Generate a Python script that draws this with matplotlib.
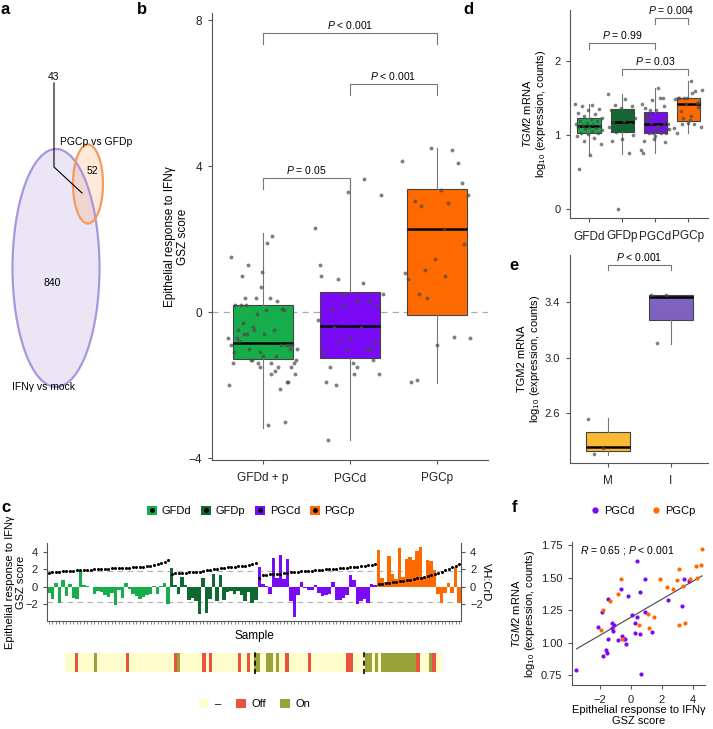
import numpy as np
import matplotlib.pyplot as plt
from matplotlib.patches import Ellipse, Patch
from matplotlib.lines import Line2D
from matplotlib.legend_handler import HandlerTuple

plt.rcParams['font.family'] = ['Liberation Sans', 'DejaVu Sans']
plt.rcParams['mathtext.fontset'] = 'custom'
plt.rcParams['mathtext.rm'] = 'Liberation Sans'
plt.rcParams['mathtext.it'] = 'Liberation Sans:italic'
plt.rcParams['font.size'] = 8
plt.rcParams['axes.edgecolor'] = '#555555'
plt.rcParams['axes.linewidth'] = 0.8
plt.rcParams['xtick.color'] = '#555555'
plt.rcParams['ytick.color'] = '#555555'
plt.rcParams['xtick.labelcolor'] = '#222222'
plt.rcParams['ytick.labelcolor'] = '#222222'

# ---- data ----
# a: overlap of gene sets
n_ifng_only = 840
n_shared = 43
n_pgcp_only = 52

# b / c: GSZ score per sample (bars of c, points of b)
gsz_gfdd = [-0.7, -1.4, 0.4, -1.9, 0.7, -1.1, 0.3, -1.3, -1.4, 1.9, 0.2, 0.05, -0.05,
            -0.9, -0.5, -0.6, -1.0, -1.2, -0.7, -2.1, -0.4, -1.3, 0.4, -0.3, -0.9, -1.1,
            -1.4, -1.2, -1.0, -0.9, 0.05, -0.8, 0.1, 0.4, -2.0]
gsz_gfdp = [2.1, 0.2, -0.9, 1.1, 0.2, -1.5, -1.3, -1.7, -3.1, 1.0, -3.0, -1.4, 1.5,
            -1.6, 1.3, -1.5, -0.6, -0.5, -0.9, -0.5, -1.0, -1.7, -0.6, -1.9, -1.5]
gsz_pgcd = [2.3, 0.3, 0.1, -0.8, 3.3, 1.0, 3.65, 0.9, 3.2, -1.7, -3.5, -1.0, 0.5, -0.2,
            -0.4, -0.4, 0.2, -0.7, -1.1, -1.0, -0.8, 0.5, -1.5, -1.5, -1.3, -1.0, 1.3,
            0.8, -2.0, -1.7, -1.4, -1.9, 0.3, 0.2]
gsz_pgcp = [4.15, 1.0, 0.5, 3.55, 1.45, 0.9, 4.45, 1.15, 3.2, 3.35, 3.05, 4.1, 4.5,
            1.07, 3.0, 2.9, 1.86, -0.9, -1.9, -0.68, 0.4, -0.7, 2.27, -1.86]

# c: VH:CrD per sample (black dots)
vh_gfdd = [1.6, 1.65, 1.7, 1.72, 1.75, 1.78, 1.8, 1.82, 1.85, 1.88, 1.9, 1.92, 1.95,
           1.97, 2.0, 2.02, 2.04, 2.06, 2.08, 2.1, 2.12, 2.14, 2.16, 2.18, 2.2, 2.22,
           2.25, 2.28, 2.32, 2.36, 2.45, 2.55, 2.68, 2.8, 3.0]
vh_gfdp = [1.5, 1.52, 1.55, 1.57, 1.6, 1.62, 1.65, 1.68, 1.72, 1.8, 1.9, 1.95, 2.0,
           2.05, 2.1, 2.15, 2.2, 2.25, 2.28, 2.32, 2.36, 2.4, 2.45, 2.55, 2.65]
vh_pgcd = [0.95, 1.35, 1.38, 1.42, 1.45, 1.48, 1.5, 1.55, 1.6, 1.63, 1.66, 1.7, 1.73,
           1.76, 1.8, 1.83, 1.86, 1.9, 1.93, 1.96, 2.0, 2.03, 2.06, 2.1, 2.14, 2.18,
           2.22, 2.26, 2.3, 2.35, 2.4, 2.45, 2.52, 2.6]
vh_pgcp = [0.3, 0.35, 0.4, 0.45, 0.5, 0.55, 0.6, 0.65, 0.72, 0.8, 0.88, 0.95, 1.02,
           1.1, 1.2, 1.35, 1.45, 1.55, 1.7, 1.85, 2.0, 2.2, 2.4, 2.6]

# c: annotation strip (sample indices), everything else is "-"
strip_off = [3, 19, 34, 43, 45, 54, 57, 69, 76, 88, 89, 110, 115]
strip_on = [9, 35, 59, 60, 63, 64, 66, 94, 95, 97, 99, 100, 101, 102, 103, 104, 105,
            106, 107, 108, 109, 114]

# b: box summaries
b_groups = ['GFDd + p', 'PGCd', 'PGCp']
b_q1 = [-1.29, -1.26, -0.08]
b_med = [-0.85, -0.38, 2.27]
b_q3 = [0.19, 0.55, 3.37]
b_lo = [-3.18, -3.5, -1.95]
b_hi = [2.16, 3.65, 4.5]

# d: TGM2 expression
d_groups = ['GFDd', 'GFDp', 'PGCd', 'PGCp']
d_q1 = [1.03, 1.04, 1.03, 1.18]
d_med = [1.12, 1.17, 1.14, 1.42]
d_q3 = [1.23, 1.35, 1.31, 1.49]
d_lo = [0.73, 0.74, 0.76, 1.02]
d_hi = [1.42, 1.55, 1.63, 1.72]
tgm2_gfdd = [1.41, 1.40, 1.39, 1.35, 1.33, 1.30, 1.28, 1.25, 1.22, 1.21, 1.19, 1.18,
             1.16, 1.15, 1.14, 1.13, 1.12, 1.11, 1.10, 1.09, 1.08, 1.06, 1.05, 1.03,
             1.02, 1.01, 0.99, 0.96, 0.92, 0.88, 0.73, 0.54]
tgm2_gfdp = [1.55, 1.48, 1.40, 1.39, 1.36, 1.33, 1.30, 1.27, 1.22, 1.19, 1.17, 1.15,
             1.12, 1.10, 1.05, 1.04, 1.00, 0.95, 0.91, 0.75, 0.0]

# e: M vs I
e_groups = ['M', 'I']
e_q1 = [2.327, 3.27]
e_med = [2.353, 3.436]
e_q3 = [2.46, 3.45]
e_lo = [2.30, 3.10]
e_hi = [2.566, 3.455]
e_m = [2.556, 2.346, 2.303]
e_i = [3.455, 3.45, 3.103]

# f: GSZ score vs TGM2
f_pgcd_gsz = [-3.5, -2.09, -1.83, -1.81, -1.61, -1.55, -1.48, -1.44, -1.23, -1.18, -1.16,
              -1.05, -0.80, -0.60, -0.54, -0.41, -0.37, -0.30, -0.15, 0.11, 0.28, 0.28,
              0.41, 0.41, 0.60, 0.60, 0.69, 0.92, 0.95, 1.40, 2.43, 3.31, 3.42, 3.78]
f_pgcd_tgm2 = [0.79, 1.12, 1.24, 0.90, 0.944, 0.92, 1.03, 1.34, 1.15, 1.11, 1.09, 1.14,
               1.02, 1.415, 1.054, 1.03, 1.026, 0.99, 1.36, 1.215, 1.155, 1.077, 1.63,
               1.20, 1.39, 1.07, 0.76, 1.49, 1.24, 1.08, 1.33, 1.28, 1.49, 1.475]
f_pgcp_gsz = [-1.94, -1.81, -1.35, -0.84, -0.62, -0.58, 0.56, 1.10, 1.20, 1.51, 1.91,
              2.37, 2.71, 2.97, 3.12, 3.14, 3.40, 3.51, 3.83, 4.19, 4.26, 4.54, 4.60]
f_pgcp_tgm2 = [1.095, 1.25, 1.32, 1.375, 1.49, 1.026, 1.14, 1.22, 1.11, 1.20, 1.49,
               1.43, 1.415, 1.48, 1.567, 1.14, 1.44, 1.155, 1.49, 1.59, 1.50, 1.60, 1.72]

C_GFDD = '#17ad4b'
C_GFDP = '#0e6a31'
C_PGCD = '#7a0af5'
C_PGCP = '#ff6a00'

W, H = 713, 729


def fx(p):
    return p / W


def fy(p):
    return 1 - p / H


def rect(x0, y0, x1, y1):
    return [fx(x0), fy(y1), fx(x1) - fx(x0), fy(y0) - fy(y1)]


def spread(n, width):
    k = np.arange(n)
    return ((k * 0.6180339887) % 1.0 - 0.5) * width


def draw_boxes(ax, pos, q1, med, q3, lo, hi, colors, width):
    stats = [dict(q1=a, med=m, q3=b, whislo=l, whishi=h, fliers=[])
             for a, m, b, l, h in zip(q1, med, q3, lo, hi)]
    bp = ax.bxp(stats, positions=pos, widths=width, patch_artist=True,
                showfliers=False, showcaps=False,
                boxprops=dict(edgecolor='#444444', linewidth=0.8),
                medianprops=dict(color='black', linewidth=1.8),
                whiskerprops=dict(color='#777777', linewidth=0.8))
    for patch, col in zip(bp['boxes'], colors):
        patch.set_facecolor(col)


def bracket(ax, x1, x2, y, h, label, fs=7.5):
    ax.plot([x1, x1, x2, x2], [y - h, y, y, y - h], color='#777777', lw=0.8,
            clip_on=False)
    ax.annotate(label, xy=((x1 + x2) / 2, y), xytext=(0, 1.5),
                textcoords='offset points', ha='center', va='bottom', fontsize=fs)


def clean(ax):
    ax.spines['top'].set_visible(False)
    ax.spines['right'].set_visible(False)
    ax.tick_params(length=3, width=0.8, pad=4)


fig = plt.figure(figsize=(7.13, 7.29), dpi=100)

# ---- a ----
ax_a = fig.add_axes(rect(0, 0, 135, 470))
ax_a.set_xlim(0, 135)
ax_a.set_ylim(470, 0)
ax_a.axis('off')
ax_a.add_patch(Ellipse((56, 268), 87, 238, facecolor='#ebe6f6', edgecolor='none'))
ax_a.add_patch(Ellipse((88, 184), 30, 79, facecolor=(1.0, 0.55, 0.2, 0.18), edgecolor='none'))
ax_a.add_patch(Ellipse((56, 268), 87, 238, fill=False, edgecolor='#a997dc', lw=1.6))
ax_a.add_patch(Ellipse((88, 184), 30, 79, fill=False, edgecolor='#f59a5c', lw=1.6))
ax_a.plot([54, 54, 82], [83, 167, 193], color='black', lw=0.8)
ax_a.text(54, 77, str(n_shared), ha='center', va='center', fontsize=7.5)
ax_a.text(92, 171, str(n_pgcp_only), ha='center', va='center', fontsize=7.5)
ax_a.text(52, 283, str(n_ifng_only), ha='center', va='center', fontsize=7.5)
ax_a.text(96, 142, 'PGCp vs GFDp', ha='center', va='center', fontsize=7.5)
ax_a.text(43, 387, 'IFNγ vs mock', ha='center', va='center', fontsize=7.5)

# ---- b ----
ax_b = fig.add_axes(rect(212, 13, 488, 460))
clean(ax_b)
b_pos = [1, 2, 3]
b_points = [gsz_gfdd + gsz_gfdp, gsz_pgcd, gsz_pgcp]
ax_b.axhline(0, color='#aaaaaa', ls=(0, (5, 4)), lw=0.9, zorder=0.5)
draw_boxes(ax_b, b_pos, b_q1, b_med, b_q3, b_lo, b_hi, [C_GFDD, C_PGCD, C_PGCP], 0.69)
for p, vals in zip(b_pos, b_points):
    ax_b.scatter(p + spread(len(vals), 0.8), vals, s=8, color='#4a4a4a', alpha=0.7,
                 lw=0, zorder=3)
ax_b.set_xlim(0.414, 3.586)
ax_b.set_ylim(-4.05, 8.2)
ax_b.set_yticks([-4, 0, 4, 8])
ax_b.set_xticks(b_pos, b_groups, fontsize=8.5)
ax_b.tick_params(axis='x', pad=6)
ax_b.tick_params(axis='y', labelsize=8.5)
ax_b.set_ylabel('Epithelial response to IFNγ\nGSZ score', fontsize=8.5, linespacing=1.1)
ax_b.yaxis.set_label_coords(-0.085, 0.5)
bracket(ax_b, 1, 3, 7.64, 0.3, '$P$ < 0.001')
bracket(ax_b, 2, 3, 6.25, 0.3, '$P$ < 0.001')
bracket(ax_b, 1, 2, 3.67, 0.3, '$P$ = 0.05')

# ---- c ----
ax_c = fig.add_axes(rect(47, 543, 461, 621))
ax_c2 = ax_c.twinx()
c_groups = [gsz_gfdd, gsz_gfdp, gsz_pgcd, gsz_pgcp]
c_dots = [vh_gfdd, vh_gfdp, vh_pgcd, vh_pgcp]
c_cols = [C_GFDD, C_GFDP, C_PGCD, C_PGCP]
start = 0
for vals, dots, col in zip(c_groups, c_dots, c_cols):
    xs = np.arange(start, start + len(vals))
    ax_c.bar(xs, vals, width=1.0, color=col, lw=0)
    ax_c2.plot(xs, dots, 'o', color='black', ms=2.2, mew=0)
    start += len(vals)
n_samples = start
for yv in (1.8, -1.8):
    ax_c.axhline(yv, color='#b0b0b0', ls=(0, (5, 4)), lw=0.8, zorder=0)
for a in (ax_c, ax_c2):
    a.set_xlim(-0.5, n_samples - 0.5)
    a.set_ylim(-3.95, 5.0)
    a.set_yticks([-2, 0, 2, 4])
    a.spines['top'].set_visible(False)
ax_c.spines['right'].set_visible(False)
ax_c2.spines['left'].set_visible(False)
ax_c2.spines['bottom'].set_visible(False)
ax_c.set_xticks(np.arange(n_samples), [''] * n_samples)
ax_c.tick_params(axis='x', length=2.5, width=0.5)
ax_c.tick_params(axis='y', length=3, labelsize=8)
ax_c2.tick_params(axis='y', length=3, labelsize=8)
ax_c.set_ylabel('Epithelial response to IFNγ\nGSZ score', fontsize=8, linespacing=1.1)
ax_c.yaxis.set_label_coords(-0.05, 0.5)
ax_c.set_xlabel('Sample', fontsize=8.5)
ax_c.xaxis.set_label_coords(0.5, -0.12)
fig.text(fx(486), fy(582), 'VH:CrD', rotation=270, ha='center', va='center', fontsize=8)

leg_handles = [(Patch(facecolor=col, edgecolor='none'),
                Line2D([], [], ls='', marker='o', color='black', ms=2.5))
               for col in c_cols]
fig.legend(leg_handles, d_groups, handler_map={tuple: HandlerTuple(ndivide=1, pad=0)},
           loc='center', bbox_to_anchor=(fx(251), fy(511)), ncol=4, frameon=False,
           handlelength=0.9, handleheight=0.9, columnspacing=0.9, handletextpad=0.4,
           fontsize=8)

# strip
ax_s = fig.add_axes(rect(65, 653, 442, 672))
state_cols = []
for i in range(n_samples):
    if i in strip_off:
        state_cols.append('#e8553f')
    elif i in strip_on:
        state_cols.append('#9aa23c')
    else:
        state_cols.append('#fefdcb')
ax_s.bar(np.arange(n_samples), np.ones(n_samples), width=1.0, color=state_cols, lw=0)
ax_s.set_xlim(-0.5, n_samples - 0.5)
ax_s.set_ylim(0, 1)
ax_s.axis('off')
for b in (len(gsz_gfdd) + len(gsz_gfdp), len(gsz_gfdd) + len(gsz_gfdp) + len(gsz_pgcd)):
    ax_s.plot([b - 1, b - 1], [-0.1, 1.1], color='black', ls=(0, (3, 2)), lw=1.2,
              clip_on=False)
strip_handles = [Patch(facecolor='#fefdcb'), Patch(facecolor='#e8553f'),
                 Patch(facecolor='#9aa23c')]
fig.legend(strip_handles, ['–', 'Off', 'On'], loc='center', bbox_to_anchor=(fx(255), fy(704)),
           ncol=3, frameon=False, handlelength=0.9, handleheight=0.9, columnspacing=1.3,
           handletextpad=0.5, fontsize=8)

# ---- d ----
ax_d = fig.add_axes(rect(570, 10, 708, 218))
clean(ax_d)
d_pos = [1, 2, 3, 4]
draw_boxes(ax_d, d_pos, d_q1, d_med, d_q3, d_lo, d_hi, c_cols, 0.7)
for p, vals in zip(d_pos, [tgm2_gfdd, tgm2_gfdp, f_pgcd_tgm2, f_pgcp_tgm2]):
    ax_d.scatter(p + spread(len(vals), 0.85), vals, s=7, color='#4a4a4a', alpha=0.7,
                 lw=0, zorder=3)
ax_d.set_xlim(0.424, 4.6)
ax_d.set_ylim(-0.12, 2.68)
ax_d.set_yticks([0, 1, 2])
ax_d.set_xticks(d_pos, d_groups, fontsize=8.5)
ax_d.tick_params(axis='x', pad=6)
ax_d.set_ylabel('$\\mathit{TGM2}$ mRNA\nlog$_{10}$ (expression, counts)', fontsize=8,
                linespacing=1.1)
ax_d.yaxis.set_label_coords(-0.16, 0.5)
bracket(ax_d, 1, 3, 2.23, 0.07, '$P$ = 0.99')
bracket(ax_d, 2, 4, 1.89, 0.08, '$P$ = 0.03')
bracket(ax_d, 3, 4, 2.57, 0.08, '$P$ = 0.004')

# ---- e ----
ax_e = fig.add_axes(rect(570, 255, 708, 463))
clean(ax_e)
e_pos = [1, 2]
draw_boxes(ax_e, e_pos, e_q1, e_med, e_q3, e_lo, e_hi, ['#fbb934', '#7f62bf'], 0.7)
for p, vals in zip(e_pos, [e_m, e_i]):
    ax_e.scatter(p + spread(len(vals), 0.4) - 0.12, vals, s=7, color='#4a4a4a', alpha=0.7,
                 lw=0, zorder=3)
ax_e.set_xlim(0.397, 2.59)
ax_e.set_ylim(2.24, 3.74)
ax_e.set_yticks([2.6, 3.0, 3.4])
ax_e.set_xticks(e_pos, e_groups, fontsize=8.5)
ax_e.tick_params(axis='x', pad=6)
ax_e.set_ylabel('TGM2 mRNA\nlog$_{10}$ (expression, counts)', fontsize=8, linespacing=1.1)
ax_e.yaxis.set_label_coords(-0.2, 0.5)
bracket(ax_e, 1, 2, 3.67, 0.04, '$P$ < 0.001')

# ---- f ----
ax_f = fig.add_axes(rect(572, 542, 705, 685))
clean(ax_f)
ax_f.scatter(f_pgcd_gsz, f_pgcd_tgm2, s=9, color=C_PGCD, lw=0, zorder=3)
ax_f.scatter(f_pgcp_gsz, f_pgcp_tgm2, s=9, color=C_PGCP, lw=0, zorder=3)
all_x = np.array(f_pgcd_gsz + f_pgcp_gsz)
all_y = np.array(f_pgcd_tgm2 + f_pgcp_tgm2)
slope, icpt = np.polyfit(all_x, all_y, 1)
xx = np.array([all_x.min(), all_x.max()])
ax_f.plot(xx, slope * xx + icpt, color='#444444', lw=0.8, zorder=2)
ax_f.set_xlim(-3.79, 4.79)
ax_f.set_ylim(0.675, 1.775)
ax_f.set_xticks([-2, 0, 2, 4])
ax_f.set_yticks([0.75, 1.0, 1.25, 1.5, 1.75], ['0.75', '1.00', '1.25', '1.50', '1.75'])
ax_f.text(-0.24, 1.713, '$R$ = 0.65 ; $P$ < 0.001', ha='center', va='center', fontsize=7.5)
ax_f.set_ylabel('$\\mathit{TGM2}$ mRNA\nlog$_{10}$ (expression, counts)', fontsize=8,
                linespacing=1.1)
ax_f.yaxis.set_label_coords(-0.26, 0.5)
ax_f.set_xlabel('Epithelial response to IFNγ\nGSZ score', fontsize=8, linespacing=1.1)
ax_f.xaxis.set_label_coords(0.5, -0.14)
f_handles = [Line2D([], [], ls='', marker='o', color=C_PGCD, ms=3.5),
             Line2D([], [], ls='', marker='o', color=C_PGCP, ms=3.5)]
fig.legend(f_handles, ['PGCd', 'PGCp'], loc='center', bbox_to_anchor=(fx(643), fy(511)),
           ncol=2, frameon=False, handlelength=0.8, columnspacing=1.5, handletextpad=0.4,
           fontsize=8)

# panel letters
for lab, px, py in [('a', 5, 10), ('b', 142, 9), ('c', 6, 508), ('d', 468, 9),
                    ('e', 514, 265), ('f', 514, 507)]:
    fig.text(fx(px), fy(py), lab, fontsize=12, fontweight='bold', ha='center', va='center')

fig.savefig('out.png', dpi=100)
